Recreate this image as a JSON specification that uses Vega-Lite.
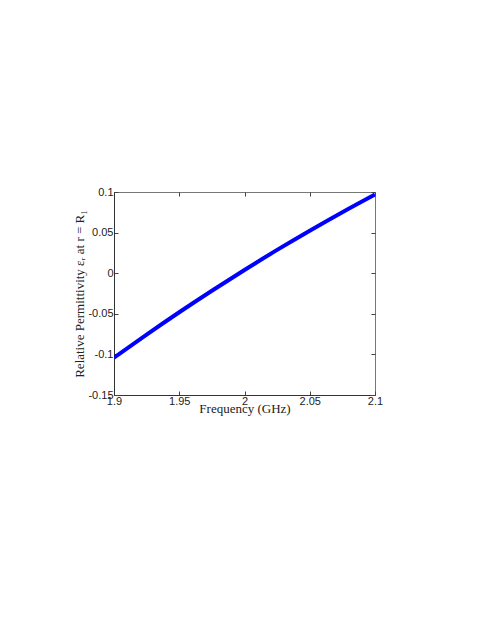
{
  "$schema": "https://vega.github.io/schema/vega-lite/v6.json",
  "autosize": {"type": "none"},
  "padding": {"left": 114, "top": 192, "right": 116, "bottom": 240},
  "width": 261,
  "height": 203,
  "background": "white",
  "config": {
    "view": {"stroke": "#777", "strokeWidth": 1},
    "axis": {
      "grid": false,
      "labelFont": "Liberation Sans",
      "labelFontSize": 11,
      "labelColor": "#222",
      "labelFlush": false,
      "titleFont": "Liberation Serif",
      "titleFontSize": 13,
      "titleFontWeight": "normal",
      "titleColor": "#222",
      "domainColor": "#333",
      "tickColor": "#444",
      "tickSize": -4
    }
  },
  "data": {
    "values": [
      {"f": 1.9, "eps": -0.104},
      {"f": 1.925, "eps": -0.0756},
      {"f": 1.95, "eps": -0.0481},
      {"f": 1.975, "eps": -0.0216},
      {"f": 2.0, "eps": 0.004},
      {"f": 2.025, "eps": 0.0287},
      {"f": 2.05, "eps": 0.0524},
      {"f": 2.075, "eps": 0.0752},
      {"f": 2.1, "eps": 0.097}
    ]
  },
  "resolve": {"axis": {"x": "independent", "y": "independent"}},
  "layer": [
    {
      "mark": {"type": "line", "color": "#0000ff", "strokeWidth": 4, "interpolate": "monotone", "clip": true},
      "encoding": {
        "x": {
          "field": "f", "type": "quantitative",
          "scale": {"domain": [1.9, 2.1], "nice": false, "zero": false},
          "axis": {"values": [1.9, 1.95, 2.0, 2.05, 2.1], "labelExpr": "'' + datum.value", "labelPadding": 4, "title": "Frequency (GHz)", "titlePadding": -4}
        },
        "y": {
          "field": "eps", "type": "quantitative",
          "scale": {"domain": [-0.15, 0.1], "nice": false, "zero": false},
          "axis": {"values": [-0.15, -0.1, -0.05, 0, 0.05, 0.1], "labelExpr": "'' + datum.value", "labelPadding": 5, "title": "Relative Permittivity εᵣ at r = R₁", "titlePadding": 1}
        }
      }
    },
    {
      "mark": {"type": "line", "strokeOpacity": 0},
      "encoding": {
        "x": {
          "field": "f", "type": "quantitative",
          "scale": {"domain": [1.9, 2.1], "nice": false, "zero": false},
          "axis": {"orient": "top", "values": [1.9, 1.95, 2.0, 2.05, 2.1], "labels": false, "domain": false, "title": null}
        },
        "y": {
          "field": "eps", "type": "quantitative",
          "scale": {"domain": [-0.15, 0.1], "nice": false, "zero": false},
          "axis": {"orient": "right", "values": [-0.15, -0.1, -0.05, 0, 0.05, 0.1], "labels": false, "domain": false, "title": null}
        }
      }
    }
  ]
}
